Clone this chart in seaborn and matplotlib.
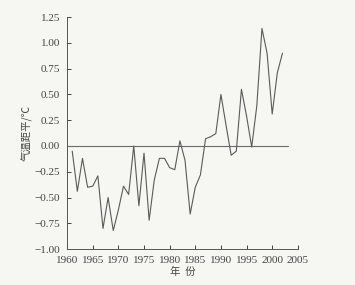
import matplotlib
matplotlib.use("Agg")
import matplotlib.pyplot as plt
import seaborn as sns
import pandas as pd

# temperature anomaly series
years = list(range(1961, 2003))
anomaly = [-0.05, -0.44, -0.12, -0.40, -0.39, -0.29, -0.80, -0.50, -0.82, -0.62,
           -0.39, -0.47, 0.00, -0.58, -0.07, -0.72, -0.33, -0.12, -0.12, -0.21,
           -0.23, 0.05, -0.14, -0.66, -0.40, -0.28, 0.07, 0.09, 0.12, 0.50,
           0.20, -0.09, -0.05, 0.55, 0.29, -0.01, 0.39, 1.14, 0.90, 0.31,
           0.71, 0.90]
ref_years = [1960, 2003]
ref_vals = [0.0, 0.0]
xticks = [1960, 1965, 1970, 1975, 1980, 1985, 1990, 1995, 2000, 2005]
yticks = [-1.00, -0.75, -0.50, -0.25, 0.00, 0.25, 0.50, 0.75, 1.00, 1.25]

df = pd.DataFrame({"year": years, "anomaly": anomaly})
ref = pd.DataFrame({"year": ref_years, "anomaly": ref_vals})

sns.set_style("ticks")
plt.rcParams["font.family"] = ["Liberation Serif", "Noto Sans CJK SC", "DejaVu Sans"]

bg = "#f6f6f3"
fig = plt.figure(figsize=(3.55, 2.85), dpi=100, facecolor=bg)
ax = fig.add_axes([0.189, 0.126, 0.650, 0.814])
ax.set_facecolor(bg)

sns.lineplot(data=ref, x="year", y="anomaly", ax=ax, color="#6a6a6a", linewidth=0.8)
sns.lineplot(data=df, x="year", y="anomaly", ax=ax, color="#5a5a5a", linewidth=0.8)

ax.set_xlim(1960, 2005)
ax.set_ylim(-1.0, 1.25)
ax.set_xticks(xticks)
ax.set_yticks(yticks)
ax.set_yticklabels([f"{v:.2f}".replace("-", "\u2212") for v in yticks])
ax.tick_params(direction="in", length=3, width=0.7, labelsize=8,
               colors="#444444")
ax.tick_params(axis="x", pad=5)
ax.tick_params(axis="y", pad=5)
for s in ["top", "right"]:
    ax.spines[s].set_visible(False)
for s in ["left", "bottom"]:
    ax.spines[s].set_color("#555555")
    ax.spines[s].set_linewidth(0.7)

ax.set_xlabel("年  份", family=["Noto Sans CJK SC", "DejaVu Sans"],
              fontsize=7.5, color="#444444", labelpad=1)
ax.set_ylabel("气温距平/℃", family=["Noto Sans CJK SC", "DejaVu Sans"],
              fontsize=7.5, color="#444444", labelpad=1)

fig.savefig("out.png", dpi=100, facecolor=bg)
